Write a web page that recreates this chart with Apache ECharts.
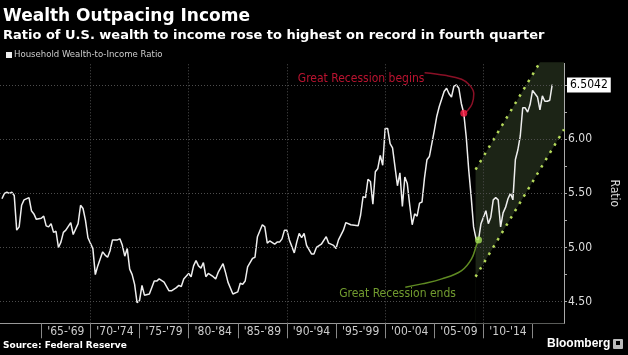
<!DOCTYPE html>
<html><head><meta charset="utf-8">
<script src="https://cdn.jsdelivr.net/npm/echarts@6/dist/echarts.min.js"></script>
<style>html,body{margin:0;padding:0;background:#000;} #c{width:628px;height:355px;background:#000;}</style>
</head><body><div id="c"></div>
<script>
// Household wealth-to-income ratio, quarterly (decimal year of quarter end)
const quarters = [
 1961.00,1961.25,1961.50,1961.75,1962.00,1962.25,1962.50,1962.75,1963.00,1963.25,
 1963.75,1964.00,1964.25,1964.50,1965.00,1965.25,1965.50,1965.75,1966.00,1966.25,
 1966.50,1966.75,1967.00,1967.25,1967.50,1968.00,1968.25,1968.75,1969.00,1969.25,
 1969.50,1969.75,1970.25,1970.50,1970.75,1971.25,1971.50,1971.75,1972.00,1972.25,
 1972.75,1973.00,1973.25,1973.50,1973.75,1974.00,1974.25,1974.50,1974.75,1975.00,
 1975.25,1975.50,1976.00,1976.50,1976.75,1977.00,1977.50,1978.00,1978.25,1978.75,
 1979.00,1979.25,1979.50,1980.00,1980.25,1980.50,1980.75,1981.00,1981.25,1981.50,
 1981.75,1982.00,1982.50,1982.75,1983.00,1983.50,1983.75,1984.00,1984.50,1985.00,
 1985.25,1985.50,1985.75,1986.00,1986.50,1986.75,1987.00,1987.50,1987.75,1988.00,
 1988.25,1988.75,1989.00,1989.25,1989.50,1989.75,1990.00,1990.25,1990.75,1991.00,
 1991.25,1991.50,1991.75,1992.00,1992.50,1992.75,1993.00,1993.50,1994.00,1994.25,
 1994.75,1995.00,1995.25,1995.75,1996.00,1996.50,1997.25,1997.50,1997.75,1998.00,
 1998.25,1998.50,1998.75,1999.00,1999.25,1999.50,1999.75,2000.00,2000.25,2000.50,
 2000.75,2001.25,2001.50,2001.75,2002.00,2002.25,2002.50,2002.75,2003.00,2003.25,
 2003.50,2003.75,2004.00,2004.25,2004.50,2005.00,2005.25,2005.50,2006.00,2006.25,
 2006.50,2006.75,2007.00,2007.25,2007.50,2007.75,2008.00,2008.25,2008.50,2008.75,
 2009.00,2009.25,2009.50,2009.75,2010.00,2010.25,2010.50,2010.75,2011.00,2011.25,
 2011.50,2011.75,2012.00,2012.25,2012.50,2012.75,2013.00,2013.25,2013.50,2013.75,
 2014.00,2014.25,2014.50,2014.75,2015.00,2015.25,2015.50,2015.75,2016.00,2016.25,
 2016.50,2016.75,2017.00];
const ratio = [
 5.45,5.50,5.51,5.50,5.51,5.48,5.16,5.19,5.39,5.44,
 5.46,5.34,5.31,5.26,5.27,5.29,5.20,5.19,5.22,5.14,
 5.15,5.00,5.05,5.14,5.16,5.23,5.12,5.22,5.39,5.36,
 5.25,5.09,4.99,4.75,4.83,4.96,4.93,4.91,4.97,5.07,
 5.07,5.08,5.02,4.92,4.99,4.80,4.75,4.66,4.49,4.51,
 4.65,4.56,4.57,4.69,4.69,4.71,4.68,4.60,4.60,4.63,
 4.65,4.64,4.71,4.76,4.73,4.83,4.88,4.83,4.81,4.86,
 4.73,4.76,4.73,4.71,4.77,4.85,4.77,4.68,4.57,4.59,
 4.67,4.66,4.69,4.82,4.90,4.91,5.10,5.21,5.19,5.04,
 5.06,5.03,5.05,5.05,5.08,5.16,5.16,5.07,4.95,5.05,
 5.13,5.09,5.13,5.02,4.94,4.94,5.00,5.03,5.10,5.04,
 5.02,4.99,5.07,5.16,5.23,5.21,5.20,5.30,5.47,5.46,
 5.63,5.61,5.40,5.70,5.73,5.85,5.76,6.10,6.10,5.96,
 5.92,5.57,5.69,5.38,5.65,5.59,5.39,5.21,5.31,5.29,
 5.41,5.42,5.64,5.81,5.84,6.08,6.21,6.30,6.44,6.47,
 6.42,6.39,6.49,6.50,6.47,6.33,6.24,6.02,5.72,5.47,
 5.19,5.08,5.07,5.22,5.28,5.34,5.22,5.28,5.44,5.46,
 5.44,5.19,5.32,5.37,5.45,5.50,5.44,5.81,5.90,6.03,
 6.29,6.29,6.25,6.32,6.45,6.42,6.39,6.27,6.40,6.35,
 6.35,6.36,6.5042];

// x axis: 5-year bins
const binStarts = [1965,1970,1975,1980,1985,1990,1995,2000,2005,2010];
const binLabels = ["'65-'69","'70-'74","'75-'79","'80-'84","'85-'89","'90-'94","'95-'99","'00-'04","'05-'09","'10-'14"];
const binEdges = [1965,1970,1975,1980,1985,1990,1995,2000,2005,2010,2015];
const gridYears = [1970,1980,1990,2000,2010];
// y axis
const yTicks = [4.5,4.75,5,5.25,5.5,5.75,6,6.25,6.5];
const yLabels = [4.5,5,5.5,6];
const gridValues = [4.5,5,5.5,6,6.5];

// trend channel
const channelYears = [2009.2, 2018.2];
const channelLow = [4.73, 6.09];
const channelHigh = [5.72, 7.08];

// annotations
const beginsYear = 2008.00;
const endsYear = 2009.50;
const beginsCurveX = [2004.01, 2006.09, 2007.78, 2008.62, 2009.02, 2008.85, 2008.40, 2008.00];
const beginsCurveY = [6.614, 6.590, 6.553, 6.497, 6.419, 6.327, 6.266, 6.24];
const endsCurveX = [2009.50, 2009.29, 2008.79, 2007.78, 2005.76, 2003.74, 2002.05];
const endsCurveY = [5.07, 5.02, 4.895, 4.787, 4.71, 4.664, 4.633];
const beginsLabelPos = [1997.55, 6.553];
const endsLabelPos = [2001.26, 4.571];

const COND = '"DejaVu Sans Condensed","DejaVu Sans",sans-serif';
const main = quarters.map((q, i) => [q, ratio[i]]);
const lastValue = ratio[ratio.length - 1];
const dotAt = (yr) => [yr, ratio[quarters.indexOf(yr)]];
const zip = (a, b) => a.map((v, i) => [v, b[i]]);
const DOTS = {color: '#b4d95a', width: 2.5, type: [2.5, 6]};

const chart = echarts.init(document.getElementById('c'), null, {renderer: 'canvas'});
chart.setOption({
  animation: false,
  backgroundColor: '#000',
  title: [
    {text: 'Wealth Outpacing Income', left: 3, top: 8, padding: 0,
     textStyle: {color: '#fff', fontSize: 17, fontWeight: 'bold', fontFamily: '"DejaVu Sans",sans-serif'}},
    {text: 'Ratio of U.S. wealth to income rose to highest on record in fourth quarter', left: 3, top: 29, padding: 0,
     textStyle: {color: '#fff', fontSize: 13, fontWeight: 'bold', fontFamily: '"DejaVu Sans",sans-serif'}},
    {text: 'Source: Federal Reserve', left: 3, top: 341, padding: 0,
     textStyle: {color: '#fff', fontSize: 9, fontWeight: 'bold', fontFamily: '"DejaVu Sans",sans-serif'}},
    {text: 'Bloomberg', left: 547, top: 338, padding: 0,
     textStyle: {color: '#fff', fontSize: 12, fontWeight: 'bold', fontFamily: '"Liberation Sans",sans-serif'}}
  ],
  graphic: [
    {type: 'rect', left: 613, top: 339, shape: {width: 10, height: 10, r: 1}, style: {fill: '#bbb'}},
    {type: 'rect', left: 616, top: 341, shape: {width: 4, height: 4}, style: {fill: '#000'}}
  ],
  legend: {
    data: ['Household Wealth-to-Income Ratio'],
    left: 6, top: 50, padding: 0, icon: 'rect', itemWidth: 6, itemHeight: 6, itemGap: 4,
    textStyle: {color: '#ccc', fontSize: 9.5, fontFamily: COND, padding: [0, 0, 0, -3]}
  },
  grid: {left: 0, right: 59.7, top: 63.4, bottom: 31.7, containLabel: false},
  xAxis: {
    type: 'value', min: 1960.8, max: 2018.2,
    axisLine: {show: true, lineStyle: {color: '#999', width: 1}},
    axisTick: {show: true, customValues: binEdges, length: 15, lineStyle: {color: '#888'}},
    axisLabel: {show: true, customValues: binStarts.map(s => s + 2.5), margin: 3,
      formatter: (v) => binLabels[binStarts.indexOf(Math.round(v - 2.5))] || '',
      color: '#ccc', fontSize: 12, fontFamily: COND},
    splitLine: {show: false}
  },
  yAxis: {
    type: 'value', position: 'right', min: 4.3, max: 6.7,
    axisLine: {show: true, lineStyle: {color: '#aaa', width: 1}},
    axisTick: {show: true, customValues: yTicks, length: 3, lineStyle: {color: '#aaa'}},
    axisLabel: {show: true, customValues: yLabels, margin: 4, formatter: (v) => v.toFixed(2),
      color: '#ddd', fontSize: 12, fontFamily: COND},
    splitLine: {show: false},
    name: 'Ratio', nameLocation: 'middle', nameRotate: -90, nameGap: 44,
    nameTextStyle: {color: '#ddd', fontSize: 12, fontFamily: COND}
  },
  series: [
    // upper edge of channel, filled down to the axis start
    {type: 'line', name: 'channelHigh', data: zip(channelYears, channelHigh), z: 1,
     symbol: 'none', silent: true, lineStyle: DOTS,
     areaStyle: {color: '#1c2416', opacity: 1, origin: 'start'}},
    // lower edge of channel, masks fill below it
    {type: 'line', name: 'channelLow', data: zip(channelYears, channelLow), z: 1,
     symbol: 'none', silent: true, lineStyle: DOTS,
     areaStyle: {color: '#000', opacity: 1, origin: 'start'}},
    {type: 'line', name: 'grid', data: [], z: 2, silent: true,
     markLine: {silent: true, symbol: ['none', 'none'], label: {show: false},
       lineStyle: {color: '#4d4d4d', type: [1, 2], width: 1},
       data: gridYears.map(y => ({xAxis: y})).concat(gridValues.map(v => ({yAxis: v})))}},
    {type: 'line', name: 'Household Wealth-to-Income Ratio', data: main, z: 3,
     symbol: 'none', color: '#eeeeee', lineStyle: {color: '#eeeeee', width: 1.5},
     markLine: {silent: true, symbol: ['none', 'none'],
       lineStyle: {color: 'rgba(0,0,0,0)', width: 0},
       label: {show: true, position: 'end', distance: 3, formatter: () => String(lastValue),
         color: '#000', backgroundColor: '#fff', padding: [2, 3, 1, 3], fontSize: 12, fontFamily: COND},
       data: [{yAxis: lastValue}]}},
    {type: 'line', name: 'beginsCurve', data: zip(beginsCurveX, beginsCurveY), z: 4, smooth: 0.4,
     symbol: 'none', silent: true, lineStyle: {color: '#8a1026', width: 1.5}},
    {type: 'line', name: 'endsCurve', data: zip(endsCurveX, endsCurveY), z: 4, smooth: 0.4,
     symbol: 'none', silent: true, lineStyle: {color: '#5f8a22', width: 1.5}},
    {type: 'scatter', name: 'beginsDot', data: [dotAt(beginsYear)], z: 5, symbolSize: 7, silent: true,
     itemStyle: {color: '#ff1e46'}},
    {type: 'scatter', name: 'endsDot', data: [dotAt(endsYear)], z: 5, symbolSize: 7, silent: true,
     itemStyle: {color: '#a6e058'}},
    {type: 'scatter', name: 'labels', z: 5, symbolSize: 1, silent: true,
     itemStyle: {color: 'rgba(0,0,0,0)'},
     data: [
       {value: beginsLabelPos, label: {show: true, position: 'inside', formatter: 'Great Recession begins', color: '#e8183c', fontSize: 12, fontFamily: COND}},
       {value: endsLabelPos, label: {show: true, position: 'inside', formatter: 'Great Recession ends', color: '#8cc03a', fontSize: 12, fontFamily: COND}}
     ]}
  ]
});
</script></body></html>
